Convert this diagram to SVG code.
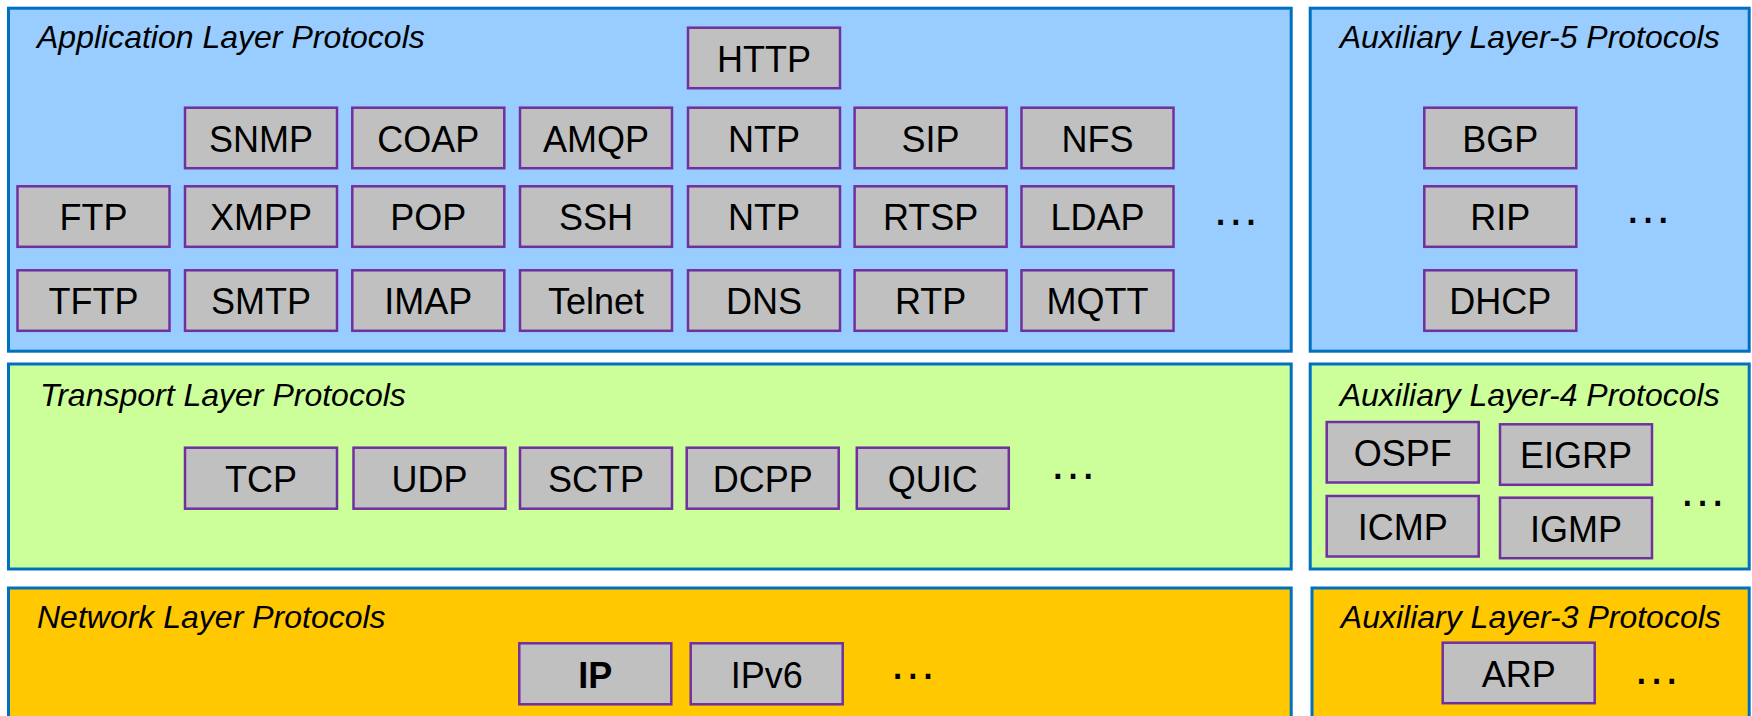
<svg xmlns="http://www.w3.org/2000/svg" width="1752" height="716" viewBox="0 0 1752 716">
<style>
.panel{stroke:#0070C0;stroke-width:3}
.app{fill:#99CCFF}
.tr{fill:#CCFF99}
.net{fill:#FFC800}
.title{font-family:"Liberation Sans",Arial,sans-serif;font-size:32px;font-style:italic;fill:#000}
.box rect{fill:#C0C0C0;stroke:#7030A0;stroke-width:2.5}
.box text{font-family:"Liberation Sans",Arial,sans-serif;font-size:36px;fill:#000;text-anchor:middle}
.dots{font-family:"Liberation Sans",Arial,sans-serif;font-size:48px;fill:#000;text-anchor:middle}
</style>
<rect width="1752" height="716" fill="#FFFFFF"/>
<g id="panels">
<g id="app-layer"><rect class="panel app" x="8.5" y="8.2" width="1282.7" height="343"/><text class="title" x="37" y="48.3">Application Layer Protocols</text><text class="dots" x="1235.8" y="225.3">…</text></g>
<g id="aux5-layer"><rect class="panel app" x="1310.2" y="8.2" width="439" height="343"/><text class="title" x="1529.7" y="48.3" text-anchor="middle">Auxiliary Layer-5 Protocols</text><text class="dots" x="1648" y="223.3">…</text></g>
<g id="transport-layer"><rect class="panel tr" x="8.5" y="364" width="1282.7" height="205"/><text class="title" x="40" y="406">Transport Layer Protocols</text><text class="dots" x="1073" y="479.3">…</text></g>
<g id="aux4-layer"><rect class="panel tr" x="1310.2" y="364" width="439" height="205"/><text class="title" x="1529.7" y="406" text-anchor="middle">Auxiliary Layer-4 Protocols</text><text class="dots" x="1702.5" y="506">…</text></g>
<g id="network-layer"><rect class="panel net" x="8.5" y="588" width="1282.7" height="140"/><text class="title" x="37" y="627.7">Network Layer Protocols</text><text class="dots" x="912.8" y="678.7">…</text></g>
<g id="aux3-layer"><rect class="panel net" x="1312" y="588" width="437.2" height="140"/><text class="title" x="1530.8" y="627.7" text-anchor="middle">Auxiliary Layer-3 Protocols</text><text class="dots" x="1656.5" y="684.3">…</text></g>
</g>
<g id="connectors"></g>
<g id="http" class="box"><rect x="688" y="27.7" width="152" height="60.5"/><text x="764" y="71.5">HTTP</text></g>
<g id="snmp" class="box"><rect x="185" y="107.7" width="152" height="60.5"/><text x="261" y="151.5">SNMP</text></g>
<g id="coap" class="box"><rect x="352.3" y="107.7" width="152" height="60.5"/><text x="428.3" y="151.5">COAP</text></g>
<g id="amqp" class="box"><rect x="520" y="107.7" width="152" height="60.5"/><text x="596" y="151.5">AMQP</text></g>
<g id="ntp1" class="box"><rect x="688" y="107.7" width="152" height="60.5"/><text x="764" y="151.5">NTP</text></g>
<g id="sip" class="box"><rect x="854.6" y="107.7" width="152" height="60.5"/><text x="930.6" y="151.5">SIP</text></g>
<g id="nfs" class="box"><rect x="1021.5" y="107.7" width="152" height="60.5"/><text x="1097.5" y="151.5">NFS</text></g>
<g id="ftp" class="box"><rect x="17.5" y="186.3" width="152" height="60.5"/><text x="93.5" y="230">FTP</text></g>
<g id="xmpp" class="box"><rect x="185" y="186.3" width="152" height="60.5"/><text x="261" y="230">XMPP</text></g>
<g id="pop" class="box"><rect x="352.3" y="186.3" width="152" height="60.5"/><text x="428.3" y="230">POP</text></g>
<g id="ssh" class="box"><rect x="520" y="186.3" width="152" height="60.5"/><text x="596" y="230">SSH</text></g>
<g id="ntp2" class="box"><rect x="688" y="186.3" width="152" height="60.5"/><text x="764" y="230">NTP</text></g>
<g id="rtsp" class="box"><rect x="854.6" y="186.3" width="152" height="60.5"/><text x="930.6" y="230">RTSP</text></g>
<g id="ldap" class="box"><rect x="1021.5" y="186.3" width="152" height="60.5"/><text x="1097.5" y="230">LDAP</text></g>
<g id="tftp" class="box"><rect x="17.5" y="270.3" width="152" height="60.5"/><text x="93.5" y="314">TFTP</text></g>
<g id="smtp" class="box"><rect x="185" y="270.3" width="152" height="60.5"/><text x="261" y="314">SMTP</text></g>
<g id="imap" class="box"><rect x="352.3" y="270.3" width="152" height="60.5"/><text x="428.3" y="314">IMAP</text></g>
<g id="telnet" class="box"><rect x="520" y="270.3" width="152" height="60.5"/><text x="596" y="314">Telnet</text></g>
<g id="dns" class="box"><rect x="688" y="270.3" width="152" height="60.5"/><text x="764" y="314">DNS</text></g>
<g id="rtp" class="box"><rect x="854.6" y="270.3" width="152" height="60.5"/><text x="930.6" y="314">RTP</text></g>
<g id="mqtt" class="box"><rect x="1021.5" y="270.3" width="152" height="60.5"/><text x="1097.5" y="314">MQTT</text></g>
<g id="bgp" class="box"><rect x="1424.3" y="107.7" width="152" height="60.5"/><text x="1500.3" y="151.5">BGP</text></g>
<g id="rip" class="box"><rect x="1424.3" y="186.3" width="152" height="60.5"/><text x="1500.3" y="230">RIP</text></g>
<g id="dhcp" class="box"><rect x="1424.3" y="270.3" width="152" height="60.5"/><text x="1500.3" y="314">DHCP</text></g>
<g id="tcp" class="box"><rect x="185" y="447.7" width="152" height="61"/><text x="261" y="491.5">TCP</text></g>
<g id="udp" class="box"><rect x="353.5" y="447.7" width="152" height="61"/><text x="429.5" y="491.5">UDP</text></g>
<g id="sctp" class="box"><rect x="520" y="447.7" width="152" height="61"/><text x="596" y="491.5">SCTP</text></g>
<g id="dcpp" class="box"><rect x="686.7" y="447.7" width="152" height="61"/><text x="762.7" y="491.5">DCPP</text></g>
<g id="quic" class="box"><rect x="856.8" y="447.7" width="152" height="61"/><text x="932.8" y="491.5">QUIC</text></g>
<g id="ospf" class="box"><rect x="1326.7" y="422" width="152" height="60.5"/><text x="1402.7" y="466">OSPF</text></g>
<g id="eigrp" class="box"><rect x="1500" y="424.3" width="152" height="60.5"/><text x="1576" y="468">EIGRP</text></g>
<g id="icmp" class="box"><rect x="1326.7" y="496" width="152" height="60.5"/><text x="1402.7" y="540">ICMP</text></g>
<g id="igmp" class="box"><rect x="1500" y="497.7" width="152" height="60.5"/><text x="1576" y="541.5">IGMP</text></g>
<g id="ip" class="box"><rect x="519.3" y="643.3" width="152" height="61"/><text x="595.3" y="687.5" font-weight="bold">IP</text></g>
<g id="ipv6" class="box"><rect x="690.7" y="643.3" width="152" height="61"/><text x="766.7" y="687.5">IPv6</text></g>
<g id="arp" class="box"><rect x="1442.7" y="642.7" width="152" height="60.5"/><text x="1518.7" y="686.5">ARP</text></g>
</svg>
